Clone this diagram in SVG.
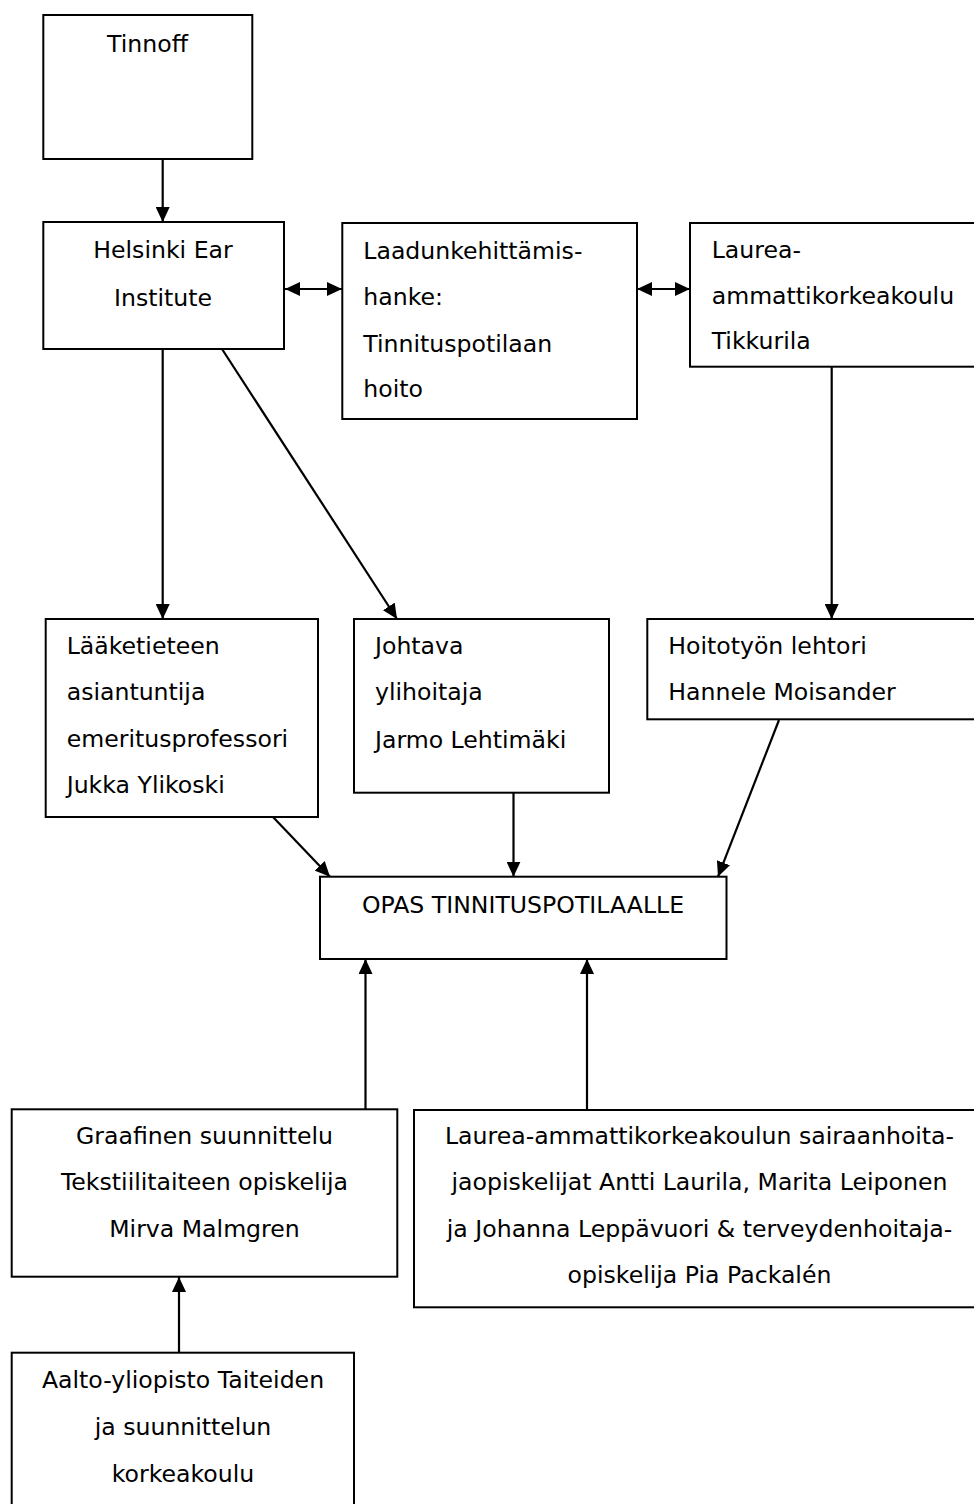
<svg xmlns="http://www.w3.org/2000/svg" width="974" height="1504" viewBox="0 0 974 1504">
<style>
  .box { fill: #ffffff; stroke: #000000; stroke-width: 2; }
  .t { font-family: "DejaVu Sans", "Noto Sans", sans-serif; font-size: 23.6px; fill: #000000; }
  .c { text-anchor: middle; }
  .edge { stroke: #000000; stroke-width: 2.2; fill: none; marker-end: url(#ah); }
  .both { marker-start: url(#ah); }
</style>
<defs>
  <marker id="ah" viewBox="0 0 15 14" refX="15" refY="7" markerWidth="15" markerHeight="14" markerUnits="userSpaceOnUse" orient="auto-start-reverse">
    <path d="M0,0 L15,7 L0,14 z" fill="#000000"/>
  </marker>
</defs>
<rect width="974" height="1504" fill="#ffffff"/>

<g id="connectors">
  <line class="edge" x1="162.7" y1="159" x2="162.7" y2="222"/>
  <line class="edge both" x1="285" y1="289" x2="342" y2="289"/>
  <line class="edge both" x1="637" y1="289" x2="690" y2="289"/>
  <line class="edge" x1="162.7" y1="349" x2="162.7" y2="619"/>
  <line class="edge" x1="222" y1="349" x2="397" y2="619"/>
  <line class="edge" x1="831.7" y1="367" x2="831.7" y2="619"/>
  <line class="edge" x1="273" y1="817" x2="330" y2="876.7"/>
  <line class="edge" x1="513.5" y1="793" x2="513.5" y2="876.7"/>
  <line class="edge" x1="779" y1="720" x2="718" y2="876.7"/>
  <line class="edge" x1="365.5" y1="1109" x2="365.5" y2="959"/>
  <line class="edge" x1="587" y1="1110" x2="587" y2="959"/>
  <line class="edge" x1="179" y1="1353" x2="179" y2="1277"/>
</g>

<g id="tinnoff">
  <rect class="box" x="43.3" y="15" width="209" height="144"/>
  <text class="t c" x="147.5" y="52.3">Tinnoff</text>
</g>

<g id="helsinki-ear-institute">
  <rect class="box" x="43.3" y="222" width="240.7" height="127"/>
  <text class="t c" x="163" y="258.3">Helsinki Ear</text>
  <text class="t c" x="163" y="306">Institute</text>
</g>

<g id="laadunkehittamishanke">
  <rect class="box" x="342.3" y="223" width="294.7" height="196"/>
  <text class="t" x="363.3" y="259">Laadunkehittämis-</text>
  <text class="t" x="363.3" y="305.3">hanke:</text>
  <text class="t" x="363.3" y="351.6">Tinnituspotilaan</text>
  <text class="t" x="363.3" y="397">hoito</text>
</g>

<g id="laurea-tikkurila">
  <rect class="box" x="690" y="223" width="300" height="143.7"/>
  <text class="t" x="711.7" y="258.3">Laurea-</text>
  <text class="t" x="711.7" y="303.5">ammattikorkeakoulu</text>
  <text class="t" x="711.7" y="349.3">Tikkurila</text>
</g>

<g id="laaketieteen-asiantuntija">
  <rect class="box" x="45.7" y="619" width="272.3" height="198"/>
  <text class="t" x="66.7" y="654">Lääketieteen</text>
  <text class="t" x="66.7" y="700">asiantuntija</text>
  <text class="t" x="66.7" y="746.5">emeritusprofessori</text>
  <text class="t" x="66.7" y="792.7">Jukka Ylikoski</text>
</g>

<g id="johtava-ylihoitaja">
  <rect class="box" x="354" y="619" width="255" height="173.7"/>
  <text class="t" x="375" y="654">Johtava</text>
  <text class="t" x="375" y="700">ylihoitaja</text>
  <text class="t" x="375" y="747.5">Jarmo Lehtimäki</text>
</g>

<g id="hoitotyon-lehtori">
  <rect class="box" x="647.3" y="619" width="340" height="100.3"/>
  <text class="t" x="668.3" y="654.3">Hoitotyön lehtori</text>
  <text class="t" x="668.3" y="700">Hannele Moisander</text>
</g>

<g id="opas">
  <rect class="box" x="320" y="876.7" width="406.5" height="82.3"/>
  <text class="t c" x="523" y="912.7">OPAS TINNITUSPOTILAALLE</text>
</g>

<g id="graafinen-suunnittelu">
  <rect class="box" x="11.7" y="1109.3" width="385.6" height="167.4"/>
  <text class="t c" x="204.5" y="1144.3">Graafinen suunnittelu</text>
  <text class="t c" x="204.5" y="1190.3">Tekstiilitaiteen opiskelija</text>
  <text class="t c" x="204.5" y="1236.7">Mirva Malmgren</text>
</g>

<g id="laurea-opiskelijat">
  <rect class="box" x="414" y="1110" width="580" height="197.3"/>
  <text class="t c" x="699.5" y="1144.3">Laurea-ammattikorkeakoulun sairaanhoita-</text>
  <text class="t c" x="699.5" y="1190.3">jaopiskelijat Antti Laurila, Marita Leiponen</text>
  <text class="t c" x="699.5" y="1236.7">ja Johanna Leppävuori &amp; terveydenhoitaja-</text>
  <text class="t c" x="699.5" y="1283">opiskelija Pia Packalén</text>
</g>

<g id="aalto-yliopisto">
  <rect class="box" x="11.7" y="1352.7" width="342.3" height="170"/>
  <text class="t c" x="183" y="1388.3">Aalto-yliopisto Taiteiden</text>
  <text class="t c" x="183" y="1435">ja suunnittelun</text>
  <text class="t c" x="183" y="1481.7">korkeakoulu</text>
</g>
</svg>
